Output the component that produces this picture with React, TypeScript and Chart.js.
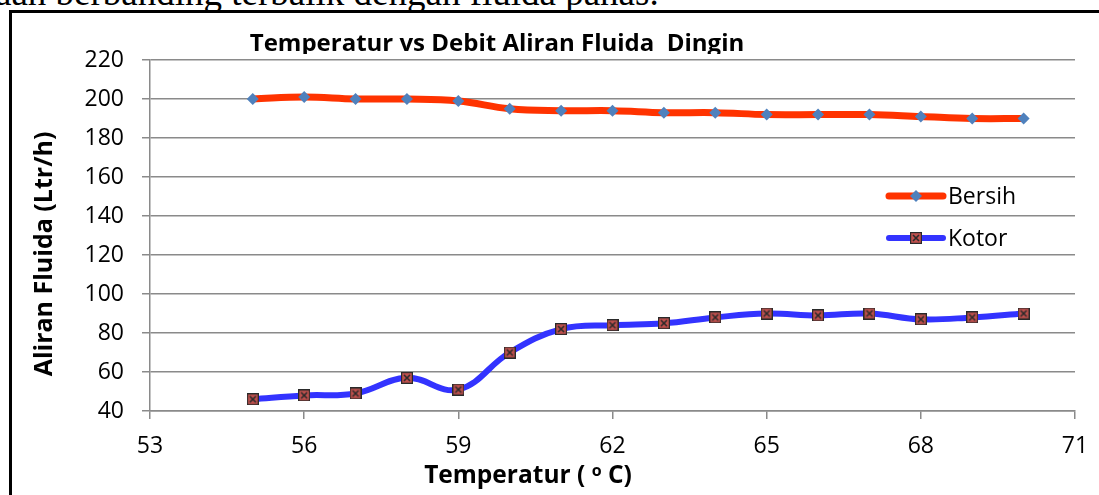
import React, { useEffect, useRef } from "react";
import { Chart, registerables } from "chart.js";

Chart.register(...registerables);

const temperatures = [55, 56, 57, 58, 59, 60, 61, 62, 63, 64, 65, 66, 67, 68, 69, 70];
const bersih = [200, 201, 200, 200, 199, 195, 194, 194, 193, 193, 192, 192, 192, 191, 190, 190];
const kotor = [46, 48, 49, 57, 51, 70, 82, 84, 85, 88, 90, 89, 90, 87, 88, 90];
const xTicks = [53, 56, 59, 62, 65, 68, 71];
const yTicks = [40, 60, 80, 100, 120, 140, 160, 180, 200, 220];
const seriesNames = ["Bersih", "Kotor"];
const chartTitle = "Temperatur vs Debit Aliran Fluida  Dingin";
const yTitle = "Aliran Fluida (Ltr/h)";
const xTitleParts = ["Temperatur ( ", "o", " C)"];
const topText = "aan berbanding terbalik dengan fluida panas.";

const FONT = "'Open Sans', 'Noto Sans', sans-serif";
const W = 1099;
const H = 495;

function makeKotorMarker(): HTMLCanvasElement {
  const c = document.createElement("canvas");
  c.width = 12;
  c.height = 12;
  const g = c.getContext("2d")!;
  g.fillStyle = "#C0504D";
  g.fillRect(0, 0, 12, 12);
  g.strokeStyle = "#2a2a2a";
  g.lineWidth = 1.2;
  g.strokeRect(0.6, 0.6, 10.8, 10.8);
  g.lineWidth = 1.6;
  g.beginPath();
  g.moveTo(3, 3);
  g.lineTo(9, 9);
  g.moveTo(9, 3);
  g.lineTo(3, 9);
  g.stroke();
  return c;
}

export default function App() {
  const ref = useRef<HTMLCanvasElement>(null);

  useEffect(() => {
    const canvas = ref.current!;
    const kotorMarker = makeKotorMarker();

    const overlay = {
      id: "overlay",
      afterDraw(chart: any) {
        const ctx = chart.ctx as CanvasRenderingContext2D;
        ctx.save();
        // Chart title (clipped at the bottom like the reference)
        ctx.save();
        ctx.beginPath();
        ctx.rect(0, 0, W, 54);
        ctx.clip();
        ctx.fillStyle = "#000";
        ctx.font = `bold 24px ${FONT}`;
        ctx.textAlign = "center";
        ctx.textBaseline = "alphabetic";
        ctx.fillText(chartTitle, 497, 51);
        ctx.restore();

        // Y title
        ctx.save();
        ctx.translate(45, 254);
        ctx.rotate(-Math.PI / 2);
        ctx.fillStyle = "#000";
        ctx.font = `bold 25px ${FONT}`;
        ctx.textAlign = "center";
        ctx.textBaseline = "middle";
        ctx.fillText(yTitle, 0, 0);
        ctx.restore();

        // X title with superscript o
        ctx.fillStyle = "#000";
        ctx.textBaseline = "alphabetic";
        const big = `bold 24.5px ${FONT}`;
        const small = `bold 16px ${FONT}`;
        ctx.font = big;
        const w0 = ctx.measureText(xTitleParts[0]).width;
        const w2 = ctx.measureText(xTitleParts[2]).width;
        ctx.font = small;
        const w1 = ctx.measureText(xTitleParts[1]).width;
        const total = w0 + w1 + w2;
        let x = 528 - total / 2;
        const base = 483;
        ctx.textAlign = "left";
        ctx.font = big;
        ctx.fillText(xTitleParts[0], x, base);
        x += w0;
        ctx.font = small;
        ctx.fillText(xTitleParts[1], x, base - 7);
        x += w1;
        ctx.font = big;
        ctx.fillText(xTitleParts[2], x, base);

        // Legend
        const items = [
          { y: 196, ds: chart.data.datasets[0] },
          { y: 238, ds: chart.data.datasets[1] },
        ];
        items.forEach((it, i) => {
          ctx.strokeStyle = it.ds.borderColor;
          ctx.lineWidth = it.ds.borderWidth;
          ctx.lineCap = "round";
          ctx.beginPath();
          ctx.moveTo(889, it.y);
          ctx.lineTo(943, it.y);
          ctx.stroke();
          if (i === 0) {
            ctx.fillStyle = "#4F81BD";
            ctx.beginPath();
            ctx.moveTo(916, it.y - 6);
            ctx.lineTo(922, it.y);
            ctx.lineTo(916, it.y + 6);
            ctx.lineTo(910, it.y);
            ctx.closePath();
            ctx.fill();
          } else {
            ctx.drawImage(kotorMarker, 910, it.y - 6);
          }
          ctx.fillStyle = "#000";
          ctx.font = `23px ${FONT}`;
          ctx.textAlign = "left";
          ctx.textBaseline = "middle";
          ctx.fillText(seriesNames[i], 948, it.y + 1);
        });
        ctx.restore();
      },
    };

    const chart = new Chart(canvas, {
      type: "line",
      data: {
        datasets: [
          {
            label: seriesNames[0],
            data: temperatures.map((t, i) => ({ x: t, y: bersih[i] })),
            borderColor: "#FF3300",
            borderWidth: 7,
            tension: 0.4,
            pointStyle: "rectRot",
            pointRadius: 6,
            pointBackgroundColor: "#4F81BD",
            pointBorderColor: "#4F81BD",
            pointBorderWidth: 0,
            borderCapStyle: "round",
          },
          {
            label: seriesNames[1],
            data: temperatures.map((t, i) => ({ x: t, y: kotor[i] })),
            borderColor: "#3333FF",
            borderWidth: 6,
            tension: 0.4,
            pointStyle: kotorMarker,
            pointRadius: 6,
            borderCapStyle: "round",
          },
        ],
      },
      options: {
        animation: false,
        responsive: false,
        devicePixelRatio: 1,
        layout: { padding: { left: 0, right: 24, top: 60, bottom: 0 } },
        plugins: {
          legend: { display: false },
          title: { display: false },
          tooltip: { enabled: false },
        },
        scales: {
          x: {
            type: "linear",
            min: 53,
            max: 71,
            afterBuildTicks: (s: any) => {
              s.ticks = xTicks.map((v) => ({ value: v }));
            },
            afterFit: (s: any) => {
              s.height = 84;
              s.paddingLeft = 0;
              s.paddingRight = 0;
            },
            grid: {
              drawOnChartArea: false,
              drawTicks: true,
              tickLength: 8,
              color: "#8a8a8a",
              lineWidth: 1.5,
            },
            border: { display: true, color: "#8a8a8a", width: 1.5 },
            ticks: {
              color: "#000",
              font: { family: FONT, size: 23 },
              padding: 14,
              maxRotation: 0,
            },
          },
          y: {
            type: "linear",
            min: 40,
            max: 220,
            afterBuildTicks: (s: any) => {
              s.ticks = yTicks.map((v) => ({ value: v }));
            },
            afterFit: (s: any) => {
              s.width = 150;
              s.paddingTop = 0;
              s.paddingBottom = 0;
            },
            grid: {
              drawOnChartArea: true,
              drawTicks: true,
              tickLength: 8,
              color: "#8a8a8a",
              lineWidth: 1.5,
            },
            border: { display: true, color: "#8a8a8a", width: 1.5 },
            ticks: {
              color: "#000",
              font: { family: FONT, size: 23 },
              padding: 18,
            },
          },
        },
      },
      plugins: [overlay],
    } as any);

    return () => chart.destroy();
  }, []);

  return (
    <div
      style={{
        position: "fixed",
        left: 0,
        top: 0,
        width: W,
        height: H,
        overflow: "hidden",
        background: "#fff",
      }}
    >
      <div
        style={{
          position: "absolute",
          left: -5,
          top: -29,
          whiteSpace: "nowrap",
          fontFamily: "'Liberation Serif', 'Times New Roman', serif",
          fontSize: 37,
          color: "#000",
        }}
      >
        {topText}
      </div>
      <div
        style={{
          position: "absolute",
          left: 9,
          top: 10,
          width: 2000,
          height: 1000,
          borderTop: "3px solid #000",
          borderLeft: "3px solid #000",
        }}
      />
      <canvas
        ref={ref}
        width={W}
        height={H}
        style={{ position: "absolute", left: 0, top: 0, width: W, height: H }}
      />
    </div>
  );
}
